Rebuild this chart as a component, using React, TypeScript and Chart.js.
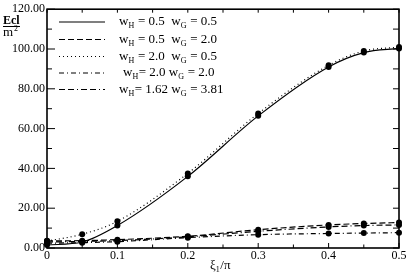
import React, { useEffect, useRef } from "react";
import { Chart, registerables } from "chart.js";

Chart.register(...registerables);

const xValues = [0, 0.05, 0.1, 0.2, 0.3, 0.4, 0.45, 0.5];
const seriesA = [1.5, 3.0, 11.3, 36.0, 66.4, 91.0, 98.2, 100.3]; // wH=0.5 wG=0.5
const seriesB = [3.6, 3.7, 4.2, 5.9, 9.2, 11.6, 12.3, 12.8]; // wH=0.5 wG=2.0
const seriesC = [3.5, 6.9, 13.4, 37.5, 67.6, 91.8, 99.0, 101.0]; // wH=2.0 wG=0.5
const seriesD = [2.4, 2.7, 3.2, 5.2, 6.7, 7.3, 7.5, 7.7]; // wH=2.0 wG=2.0
const seriesE = [3.0, 3.3, 3.7, 5.6, 8.4, 10.6, 11.3, 11.6]; // wH=1.62 wG=3.81

const legendLabels = [
  ["0.5", "0.5"],
  ["0.5", "2.0"],
  ["2.0", "0.5"],
  ["2.0", "2.0"],
  ["1.62", "3.81"],
];
const dashes: number[][] = [[], [6, 3], [1, 3], [5, 3, 1, 3], [6, 3, 6, 3, 1, 3]];
const allSeries = [seriesA, seriesB, seriesC, seriesD, seriesE];

const xTicks = [0, 0.1, 0.2, 0.3, 0.4, 0.5];
const yTicks = [0, 20, 40, 60, 80, 100, 120];

const SERIF = "Liberation Serif";

const decor = {
  id: "decor",
  afterDraw(chart: any) {
    const ctx = chart.ctx as CanvasRenderingContext2D;
    const a = chart.chartArea;
    const xs = chart.scales.x;
    const ys = chart.scales.y;
    ctx.save();
    ctx.strokeStyle = "#000";
    ctx.lineWidth = 1.6;
    ctx.strokeRect(a.left, a.top, a.right - a.left, a.bottom - a.top);
    ctx.lineWidth = 1;
    for (let v = 0; v <= 120; v += 10) {
      const p = ys.getPixelForValue(v);
      const major = v % 20 === 0;
      ctx.beginPath();
      ctx.moveTo(a.left, p);
      ctx.lineTo(a.left + (major ? 8 : 5), p);
      ctx.moveTo(a.right, p);
      ctx.lineTo(a.right - 6, p);
      ctx.stroke();
    }
    for (let i = 0; i <= 10; i++) {
      const v = i * 0.05;
      const p = xs.getPixelForValue(v);
      const major = i % 2 === 0;
      ctx.beginPath();
      ctx.moveTo(p, a.bottom);
      ctx.lineTo(p, a.bottom - (major ? 5 : 3.5));
      ctx.moveTo(p, a.top);
      ctx.lineTo(p, a.top + 3.5);
      ctx.stroke();
    }
    const rowY = [22, 39.5, 56.5, 73, 89.5];
    ctx.fillStyle = "#000";
    ctx.textBaseline = "alphabetic";
    ctx.textAlign = "left";
    for (let i = 0; i < 5; i++) {
      const y = rowY[i];
      ctx.beginPath();
      ctx.setLineDash(dashes[i]);
      ctx.lineWidth = 1.2;
      ctx.moveTo(59, y);
      ctx.lineTo(105, y);
      ctx.stroke();
      ctx.setLineDash([]);
      let x = i === 3 ? 123 : 119;
      const base = y + 3;
      const tight = i >= 3;
      const runs: [string, boolean][] = [
        ["w", false],
        ["H", true],
        [(tight ? "= " : " = ") + legendLabels[i][0] + (tight ? " w" : "  w"), false],
        ["G", true],
        [" = " + legendLabels[i][1], false],
      ];
      for (const [t, sub] of runs) {
        ctx.font = sub ? `8px "${SERIF}", serif` : `13px "${SERIF}", serif`;
        ctx.fillText(t, x, sub ? base + 3 : base);
        x += ctx.measureText(t).width + (sub ? 0.5 : 0);
      }
    }
    ctx.font = `bold 12px "${SERIF}", serif`;
    ctx.fillText("Ecl", 3, 24);
    ctx.lineWidth = 1;
    ctx.beginPath();
    ctx.moveTo(3, 26.5);
    ctx.lineTo(20, 26.5);
    ctx.stroke();
    ctx.font = `13px "${SERIF}", serif`;
    ctx.fillText("m", 3, 36);
    ctx.font = `8px "${SERIF}", serif`;
    ctx.fillText("2", 14, 31);
    let tx = 210;
    const ty = 269;
    ctx.font = `13px "${SERIF}", serif`;
    ctx.fillText("ξ", tx, ty);
    tx += ctx.measureText("ξ").width;
    ctx.font = `8px "${SERIF}", serif`;
    ctx.fillText("1", tx, ty + 3);
    tx += ctx.measureText("1").width + 0.5;
    ctx.font = `13px "${SERIF}", serif`;
    ctx.fillText("/π", tx, ty);
    ctx.restore();
  },
};

export default function App() {
  const ref = useRef<HTMLCanvasElement>(null);
  useEffect(() => {
    if (!ref.current) return;
    const chart = new Chart(ref.current, {
      type: "line",
      data: {
        datasets: allSeries.map((s, i) => ({
          label: String(i),
          data: xValues.map((x, j) => ({ x, y: s[j] })),
          borderColor: "#000",
          backgroundColor: "#000",
          borderWidth: 1.2,
          borderDash: dashes[i],
          pointRadius: 3,
          pointBackgroundColor: "#000",
          pointBorderWidth: 0,
          cubicInterpolationMode: "monotone" as const,
          fill: false,
          clip: false as any,
        })),
      },
      plugins: [decor],
      options: {
        animation: false,
        responsive: false,
        maintainAspectRatio: false,
        layout: { padding: { top: 3.5, right: 10, left: 0, bottom: 0 } },
        plugins: { legend: { display: false }, tooltip: { enabled: false } },
        scales: {
          x: {
            type: "linear",
            min: 0,
            max: 0.5,
            afterBuildTicks: (s: any) => {
              s.ticks = xTicks.map((v) => ({ value: v }));
            },
            afterFit: (s: any) => {
              s.height = 25;
            },
            grid: { display: false, drawTicks: false },
            border: { display: false },
            ticks: {
              padding: 1,
              color: "#000",
              maxRotation: 0,
              font: { family: `"${SERIF}", serif`, size: 12 },
              callback: (v: any) => (v === 0 ? "0" : String(Math.round(Number(v) * 10) / 10)),
            },
          },
          y: {
            type: "linear",
            min: 0,
            max: 120,
            afterBuildTicks: (s: any) => {
              s.ticks = yTicks.map((v) => ({ value: v }));
            },
            afterFit: (s: any) => {
              s.width = 47;
            },
            grid: { display: false, drawTicks: false },
            border: { display: false },
            ticks: {
              padding: 2,
              color: "#000",
              font: { family: `"${SERIF}", serif`, size: 12 },
              callback: (v: any) => Number(v).toFixed(2),
            },
          },
        },
      },
    });
    return () => chart.destroy();
  }, []);
  return (
    <div style={{ position: "fixed", left: 0, top: 0, width: 409, height: 273, background: "#fff" }}>
      <canvas ref={ref} width={409} height={273} style={{ width: 409, height: 273 }} />
    </div>
  );
}
